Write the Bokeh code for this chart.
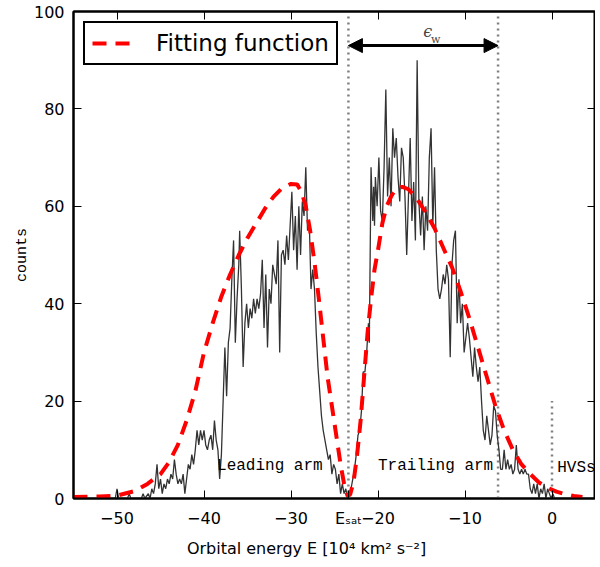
"""Orbital energy histogram of stripped stars with fitting function."""
from bokeh.plotting import figure
from bokeh.models import Label, Arrow, NormalHead, LinearAxis, Legend, LegendItem, Range1d
from bokeh.embed import file_html
from bokeh.resources import INLINE

# histogram (energy in 1e4 km^2 s^-2, counts)
hist_energy = [
    -55, -50.2, -50, -49.8, -48.8, -48.6, -48.4, -47.2, -47, -46.8, -46.4, -46.2,
    -46, -45.8, -45.6, -45.4, -45.2, -45, -44.8, -44.6, -44.4, -44.2, -44, -43.8,
    -43.6, -43.4, -43.2, -43, -42.8, -42.6, -42.4, -42.2, -42, -41.8, -41.6, -41.4,
    -41.2, -41, -40.8, -40.6, -40.4, -40.2, -40, -39.8, -39.6, -39.4, -39.2, -39,
    -38.8, -38.6, -38.4, -38.2, -38, -37.8, -37.6, -37.4, -37.2, -37, -36.8, -36.6,
    -36.4, -36.2, -36, -35.9, -35.7, -35.5, -35.3, -35.1, -34.9, -34.7, -34.5, -34.3,
    -34.1, -33.9, -33.7, -33.5, -33.3, -33.1, -32.9, -32.7, -32.5, -32.3, -32.1, -31.9,
    -31.7, -31.5, -31.3, -31.1, -30.9, -30.7, -30.5, -30.3, -30.1, -29.9, -29.7, -29.5,
    -29.3, -29.1, -28.9, -28.7, -28.5, -28.3, -28.1, -27.9, -27.7, -27.5, -27.3, -27.1,
    -26.9, -26.7, -26.5, -26.3, -26.1, -25.9, -25.7, -25.5, -25.3, -25.1, -24.9, -24.7,
    -24.5, -24.3, -24.1, -23.9, -23.7, -23.5, -23.3, -23.1, -22.9, -22.7, -22.5, -22.3,
    -22.1, -21.9, -21.7, -21.5, -21.3, -21.1, -21, -20.8, -20.6, -20.5, -20.4, -20.3,
    -20.1, -19.9, -19.7, -19.5, -19.3, -19.1, -18.9, -18.7, -18.5, -18.3, -18.1, -17.9,
    -17.7, -17.5, -17.3, -17.1, -16.9, -16.7, -16.5, -16.3, -16.1, -15.9, -15.7, -15.5,
    -15.3, -15.1, -14.9, -14.7, -14.5, -14.3, -14.1, -13.9, -13.7, -13.5, -13.3, -13.1,
    -12.9, -12.7, -12.5, -12.3, -12.1, -11.9, -11.7, -11.5, -11.3, -11.1, -10.9, -10.7,
    -10.5, -10.3, -10.1, -9.9, -9.7, -9.5, -9.3, -9.1, -8.9, -8.7, -8.5, -8.3,
    -8.1, -7.9, -7.7, -7.5, -7.3, -7.1, -6.9, -6.7, -6.5, -6.3, -6.1, -5.9,
    -5.7, -5.5, -5.3, -5.1, -4.9, -4.7, -4.5, -4.3, -4.1, -3.9, -3.7, -3.5,
    -3.3, -3.1, -2.9, -2.7, -2.5, -2.3, -2.1, -1.9, -1.7, -1.5, -1.3, -1.1,
    -0.9, -0.7, -0.5, -0.3, -0.1, 0.1, 0.3, 5,
]
hist_counts = [
    0, 0, 2, 0, 0, 1, 0, 0, 1, 0, 1, 0,
    2, 1, 3, 7, 2, 4, 1, 3, 2, 4, 3, 5,
    4, 8, 5, 3, 4, 3, 5, 1, 4, 7, 6, 9,
    7, 10, 14, 11, 14, 12, 14, 11, 10, 12, 13, 10,
    16, 12, 10, 4, 9, 20, 31, 21, 32, 35, 45, 53,
    32, 41, 48, 55, 43, 27, 36, 40, 35, 39, 37, 41,
    38, 41, 39, 42, 49, 35, 46, 31, 43, 40, 48, 46,
    44, 53, 30, 50, 51, 48, 54, 49, 56, 63, 51, 58,
    47, 60, 50, 61, 58, 68, 55, 57, 43, 47, 43, 34,
    27, 22, 17, 14, 12, 10, 8, 9, 5, 7, 6, 3,
    5, 1, 3, 1, 2, 0, 1, 2, 4, 6, 9, 13,
    14, 18, 26, 26, 30, 36, 32, 68, 57, 64, 56, 66,
    60, 70, 59, 57, 68, 84, 62, 70, 60, 76, 70, 74,
    66, 61, 72, 70, 62, 50, 62, 74, 57, 65, 53, 90,
    61, 54, 62, 51, 60, 55, 70, 76, 56, 68, 51, 43,
    41, 43, 46, 44, 48, 45, 29, 48, 53, 55, 36, 45,
    36, 40, 30, 33, 36, 33, 29, 25, 31, 27, 24, 27,
    20, 14, 12, 17, 14, 11, 13, 19, 18, 13, 10, 6,
    6, 10, 6, 8, 6, 7, 5, 6, 11, 6, 5, 6,
    5, 6, 5, 5, 2, 1, 3, 1, 3, 0, 2, 1,
    3, 0, 2, 1, 0, 1, 0, 0,
]

# fitting function
fit_energy = [
    -55, -52, -50, -48, -46.5, -45, -44, -43, -42, -41, -40, -39, -38, -37, -36,
    -35, -34, -33, -32, -31, -30, -29.3, -28.8, -28.3, -27.8, -27.3, -26.8, -26.3,
    -25.8, -25.3, -24.8, -24.3, -23.9, -23.5, -23.2, -22.8, -22.4, -22, -21.6,
    -21.2, -20.8, -20.4, -20, -19.5, -19, -18.5, -18, -17.2, -16.5, -15.5, -14.5,
    -13.5, -12.5, -11.5, -10.5, -9.5, -8.5, -7.5, -6.5, -5.5, -4.5, -3.5, -2.5,
    -1.5, -0.5, 0.5, 1.5, 2.5, 3.5,
]
fit_counts = [
    0.3, 0.4, 0.6, 1.5, 3, 5, 7.5, 11, 16, 22, 30, 36, 41.5, 46, 50,
    53.5, 56.5, 59.5, 62, 63.8, 64.6, 64.5, 63, 60, 55, 48.5, 41, 33,
    25, 19, 13, 7, 3, 0.5, 0.8, 3.5, 9, 16, 25,
    34, 41, 47, 51, 56.5, 60, 62, 63.5, 64, 63.5, 61.5, 58.7,
    55.5, 51.5, 47.5, 42.5, 37, 31, 25, 19, 14, 10, 7, 5,
    3.3, 2.2, 1.4, 0.9, 0.5, 0.3,
]

e_sat = -23.4
e_edge = -6.2
e_hvs = 0.0
xticks = [-50, -40, -30, -20, -10, 0]
yticks = [0, 20, 40, 60, 80, 100]

TICK_FONT = "DejaVu Sans"
MONO = "Liberation Mono"

p = figure(
    width=598, height=551, output_backend="svg", toolbar_location=None,
    x_range=Range1d(-55, 5), y_range=Range1d(0, 100),
    min_border_left=73, min_border_top=11, min_border_right=0, min_border_bottom=4,
)
p.frame_width = 522
p.frame_height = 487
p.xgrid.visible = False
p.ygrid.visible = False
p.outline_line_color = "black"
p.outline_line_width = 2
p.background_fill_color = "white"

# dotted markers
for e_val, top in [(e_sat, 100), (e_edge, 100), (e_hvs, 20)]:
    p.segment(x0=[e_val], y0=[0], x1=[e_val], y1=[top], line_color="gray",
              line_width=2.5, line_dash="2 4")

p.line(hist_energy, hist_counts, line_color="#333333", line_width=1.3)
fit = p.line(fit_energy, fit_counts, line_color="red", line_width=4, line_dash="14 9")

p.add_layout(Arrow(
    start=NormalHead(size=14, fill_color="black", line_color="black"),
    end=NormalHead(size=14, fill_color="black", line_color="black"),
    x_start=e_sat, y_start=93, x_end=e_edge, y_end=93, line_width=3,
))

for xx, yy, txt in [(-38.5, 6.6, "Leading arm"), (-20.0, 6.6, "Trailing arm"), (0.6, 6.2, "HVSs")]:
    p.add_layout(Label(x=xx, y=yy, text=txt, text_font=MONO, text_font_size="16px",
                       text_baseline="middle", text_color="black"))

p.add_layout(Label(x=-14.8, y=95.8, text="ϵ", text_font="DejaVu Serif",
                   text_font_style="italic", text_font_size="16px", text_baseline="middle"))
p.add_layout(Label(x=-13.9, y=94.3, text="w", text_font="DejaVu Serif",
                   text_font_size="11px", text_baseline="middle"))

legend = Legend(items=[LegendItem(label="Fitting function", renderers=[fit])],
                location="top_left")
legend.margin = 10
legend.border_line_color = "black"
legend.border_line_width = 2
legend.border_line_alpha = 1
legend.label_text_font = TICK_FONT
legend.label_text_font_size = "23px"
legend.label_text_color = "black"
legend.glyph_width = 46
legend.glyph_height = 24
legend.label_standoff = 18
legend.padding = 7
legend.background_fill_alpha = 1
p.add_layout(legend)


def style_axis(axis, show_labels):
    axis.axis_line_width = 2
    axis.axis_line_color = "black"
    axis.major_tick_in = 8
    axis.major_tick_out = 0
    axis.major_tick_line_width = 1
    axis.major_tick_line_color = "black"
    axis.minor_tick_line_color = None
    if show_labels:
        axis.major_label_text_font = TICK_FONT
        axis.major_label_text_font_size = "16px"
        axis.major_label_text_color = "black"
        axis.axis_label_text_color = "black"
    else:
        axis.major_label_text_font_size = "0px"
        axis.major_label_standoff = 0


p.xaxis.ticker = xticks + [e_sat]
p.xaxis.major_label_overrides = {e_sat: "Eₛₐₜ"}
p.yaxis.ticker = yticks
style_axis(p.xaxis[0], True)
style_axis(p.yaxis[0], True)
p.xaxis.major_label_standoff = 10
p.yaxis.major_label_standoff = 9
nb = "\u00a0"
p.xaxis.axis_label = "Orbital energy E [10⁴  km²  s⁻²]" + nb * 9
p.xaxis.axis_label_text_font = TICK_FONT
p.xaxis.axis_label_text_font_size = "16px"
p.xaxis.axis_label_text_font_style = "normal"
p.xaxis.axis_label_standoff = 8
p.yaxis.axis_label = "counts"
p.yaxis.axis_label_text_font = MONO
p.yaxis.axis_label_text_font_size = "15px"
p.yaxis.axis_label_text_font_style = "normal"
p.yaxis.axis_label_standoff = 0

top_axis = LinearAxis(ticker=xticks)
right_axis = LinearAxis(ticker=yticks)
style_axis(top_axis, False)
style_axis(right_axis, False)
p.add_layout(top_axis, "above")
p.add_layout(right_axis, "right")

open("out.html", "w").write(file_html(p, INLINE))
